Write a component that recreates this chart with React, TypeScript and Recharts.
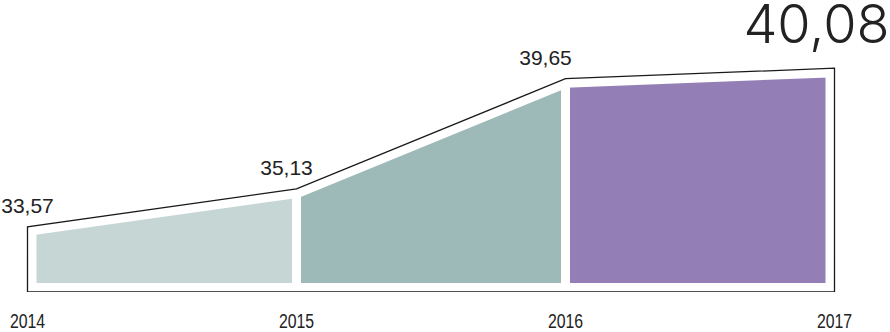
import React from 'react';
import { ComposedChart, Area, Line, XAxis, YAxis } from 'recharts';

const years = [2014, 2015, 2016, 2017];
const values = [33.57, 35.13, 39.65, 40.08];
const valueLabels = ['33,57', '35,13', '39,65', '40,08'];
const segmentColors = ['#c5d6d4', '#9db9b8', '#937fb5'];

const Y_MIN = 30.9;
const Y_MAX = 42;

const chartData = years.map((year, i) => {
  const row: any = { year, value: values[i] };
  segmentColors.forEach((_, k) => {
    row[`s${k}`] = i === k || i === k + 1 ? values[i] : null;
  });
  return row;
});

const outline = [
  { year: years[0], v: Y_MIN },
  ...years.map((year, i) => ({ year, v: values[i] })),
  { year: years[years.length - 1], v: Y_MIN },
  { year: years[0], v: Y_MIN },
];

const gaps = years.slice(1, -1).map((year, j) => [
  { year, v: Y_MIN },
  { year, v: values[j + 1] },
]);

const labelStyle = [
  { dx: 0, dy: -14, size: 21, big: false },
  { dx: -10, dy: -13.5, size: 21, big: false },
  { dx: -20, dy: -13.5, size: 21, big: false },
  { dx: -18, dy: -25, size: 54, big: true },
];

const renderLabel = (props: any) => {
  const { x, y, index } = props;
  const s = labelStyle[index];
  if (!s) return null;
  return (
    <text
      x={x + s.dx}
      y={y + s.dy}
      textAnchor="middle"
      fontSize={s.size}
      fontFamily={s.big ? 'Inter, Lato, sans-serif' : '"Liberation Sans", Arial, sans-serif'}
      fontWeight={s.big ? 300 : 400}
      fill="#222"
    >
      {valueLabels[index]}
    </text>
  );
};

const YearTick = (props: any) => {
  const { x, y, payload } = props;
  const str = String(payload.value);
  return (
    <text
      x={x}
      y={y + 36}
      textAnchor="middle"
      fontSize={20}
      fontFamily='"Liberation Sans", Arial, sans-serif'
      textLength={str.length * 8.8}
      lengthAdjust="spacingAndGlyphs"
      fill="#222"
    >
      {str}
    </text>
  );
};

export default function App() {
  return (
    <div style={{ position: 'absolute', left: 0, top: 0, background: '#fff' }}>
      <ComposedChart
        width={890}
        height={332}
        data={chartData}
        margin={{ top: 21.4, right: 55.5, bottom: 0, left: 27.5 }}
      >
        <XAxis
          dataKey="year"
          type="number"
          domain={[years[0], years[years.length - 1]]}
          ticks={years}
          axisLine={false}
          tickLine={false}
          tickSize={0}
          tickMargin={0}
          height={40}
          tick={<YearTick />}
          interval={0}
        />
        <YAxis hide type="number" domain={[Y_MIN, Y_MAX]} allowDataOverflow />
        {segmentColors.map((c, k) => (
          <Area
            key={`s${k}`}
            dataKey={`s${k}`}
            type="linear"
            fill={c}
            fillOpacity={1}
            stroke="none"
            baseValue={Y_MIN}
            connectNulls={false}
            isAnimationActive={false}
            dot={false}
            activeDot={false}
          />
        ))}
        <Line
          data={outline}
          dataKey="v"
          type="linear"
          stroke="#ffffff"
          strokeWidth={18}
          strokeLinejoin="miter"
          strokeLinecap="square"
          dot={false}
          activeDot={false}
          isAnimationActive={false}
        />
        {gaps.map((g, j) => (
          <Line
            key={`gap${j}`}
            data={g}
            dataKey="v"
            type="linear"
            stroke="#ffffff"
            strokeWidth={9}
            dot={false}
            activeDot={false}
            isAnimationActive={false}
          />
        ))}
        <Line
          data={outline}
          dataKey="v"
          type="linear"
          stroke="#1a1a1a"
          strokeWidth={1.3}
          strokeLinejoin="miter"
          dot={false}
          activeDot={false}
          isAnimationActive={false}
        />
        <Line
          dataKey="value"
          type="linear"
          stroke="none"
          dot={false}
          activeDot={false}
          isAnimationActive={false}
          label={renderLabel}
        />
      </ComposedChart>
    </div>
  );
}
